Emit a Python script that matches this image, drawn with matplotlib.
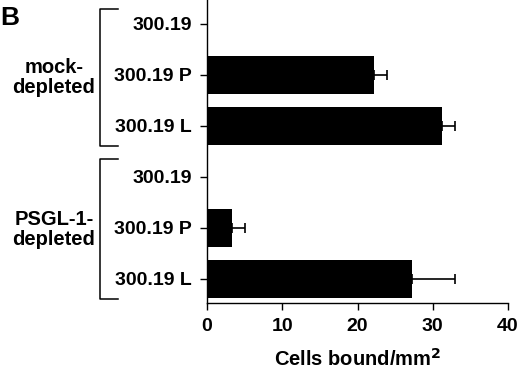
import matplotlib.pyplot as plt
from matplotlib.transforms import blended_transform_factory

plt.rcParams['font.family'] = ['Liberation Sans', 'DejaVu Sans']
plt.rcParams['font.weight'] = 'bold'

# data
rows = ["300.19", "300.19 P", "300.19 L", "300.19", "300.19 P", "300.19 L"]
cells = [0, 22.2, 31.2, 0, 3.3, 27.2]
err = [0, 1.7, 1.8, 0, 1.7, 5.7]
groups = ["mock-\ndepleted", "PSGL-1-\ndepleted"]

fig = plt.figure(figsize=(5.2, 3.69), dpi=100)
ax = fig.add_axes([0.398, 0.179, 0.579, 0.821])

pos = list(range(len(rows)))
ax.barh(pos, cells, height=0.74, color='black')
ax.errorbar(cells, pos, xerr=[[0] * len(err), err], fmt='none',
            ecolor='black', elinewidth=1.2, capsize=3.5, capthick=1.2)

ax.set_ylim(5.47, -0.47)
ax.set_yticks(pos)
ax.set_yticklabels(rows, fontsize=14, fontweight='bold')
ax.set_xlim(0, 40)
ax.set_xticks([0, 10, 20, 30, 40])
ax.tick_params(axis='x', labelsize=14, length=5, width=1.0, pad=6)
ax.tick_params(axis='y', length=5, width=1.0, pad=6)
for lab in ax.get_xticklabels():
    lab.set_fontweight('bold')
ax.spines['top'].set_visible(False)
ax.spines['right'].set_visible(False)
ax.spines['left'].set_linewidth(1.0)
ax.spines['bottom'].set_linewidth(1.0)
ax.set_xlabel("Cells bound/mm$^\\mathbf{2}$", fontsize=14.5, fontweight='bold', labelpad=9)

# group brackets
tr = blended_transform_factory(fig.transFigure, ax.transData)
x0, x1 = 100 / 520, 118 / 520
for (top, bot), name in zip([(-0.3, 2.4), (2.65, 5.4)], groups):
    ax.plot([x1, x0, x0, x1], [top, top, bot, bot], color='black', lw=1.1,
            transform=tr, clip_on=False)
    ax.text(54 / 520, (top + bot) / 2, name, transform=tr, ha='center', va='center',
            fontsize=14.5, fontweight='bold', linespacing=1.1)

fig.text(0.0, 0.985, "B", fontsize=19, fontweight='bold', ha='left', va='top')

fig.savefig("out.png", dpi=100)
